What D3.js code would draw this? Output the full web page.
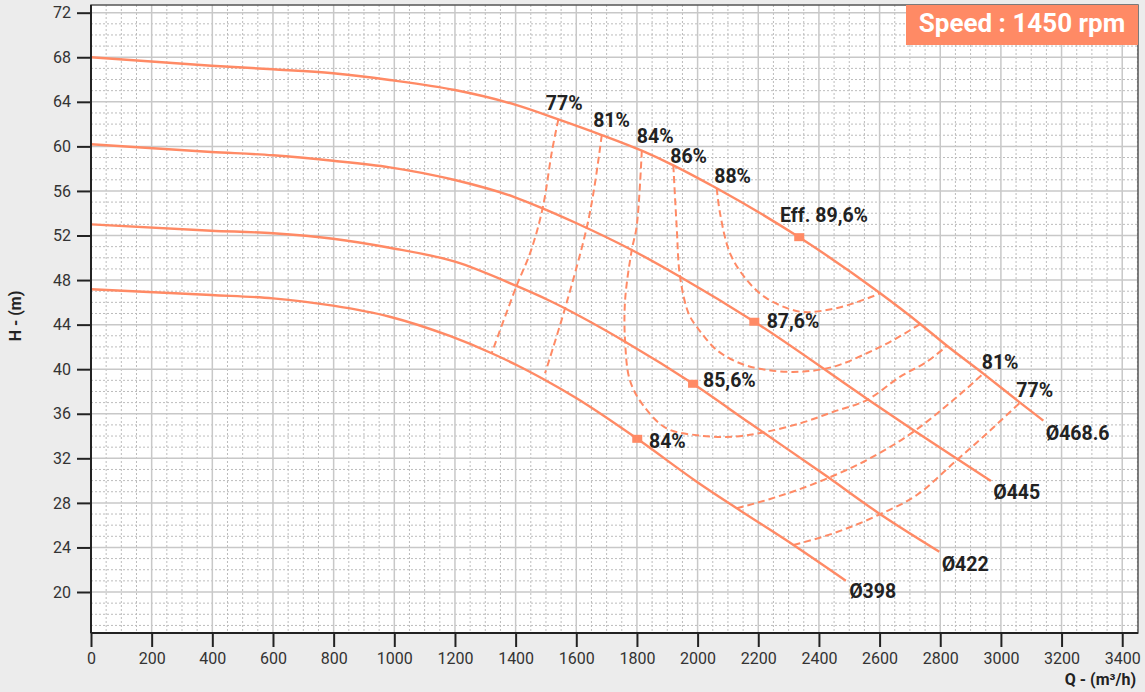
<!DOCTYPE html>
<html><head><meta charset="utf-8">
<script src="https://cdn.jsdelivr.net/npm/d3@7"></script>
<style>
html,body{margin:0;padding:0;background:#ececec;}
svg{display:block;font-family:Roboto,"Noto Sans",sans-serif;}
</style></head><body>
<svg id="chart" width="1145" height="692"></svg>
<script>
// ---------- DATA ----------
const xTicks = [0,200,400,600,800,1000,1200,1400,1600,1800,2000,2200,2400,2600,2800,3000,3200,3400];
const yTicks = [20,24,28,32,36,40,44,48,52,56,60,64,68,72];
const xDomain = [0, 3452];
const yDomain = [16.32, 72.69];
const xTitle = "Q - (m³/h)";
const yTitle = "H - (m)";
const speedText = "Speed : 1450 rpm";

// Head curves (Q m3/h, H m)
const head468 = [[0,68.0],[397,67.24],[600,66.92],[798,66.56],[985,65.96],[1200,65.06],[1398,63.75],[1541,62.43],[1684,61.02],[1816,59.61],[1920,58.30],[2063,56.24],[2335,51.84],[2602,46.81],[2734,44.06],[2822,42.10],[2942,39.60],[3063,37.00],[3140,35.38]];
const head445 = [[0,60.19],[397,59.50],[600,59.20],[798,58.71],[985,58.12],[1200,56.98],[1398,55.43],[1489,54.44],[1601,53.10],[1783,50.70],[1942,48.30],[2187,44.26],[2558,37.35],[2712,34.52],[2855,31.95],[2967,29.96]];
const head422 = [[0,53.0],[397,52.43],[600,52.20],[798,51.71],[985,50.90],[1200,49.65],[1403,47.47],[1507,46.21],[1761,42.47],[1985,38.69],[2173,35.14],[2420,30.50],[2596,27.10],[2797,23.62]];
const head398 = [[0,47.17],[397,46.66],[600,46.36],[798,45.70],[985,44.71],[1183,42.98],[1321,41.43],[1403,40.38],[1497,39.03],[1601,37.39],[1801,33.75],[1997,29.90],[2129,27.51],[2316,24.22],[2489,21.01]];
const diameterLabels = ["Ø468.6","Ø445","Ø422","Ø398"];
const diameterLabelPos = [[3151,33.65],[2978,28.32],[2808,21.91],[2503,19.44]];

// Iso-efficiency curves
const eff77a = [[1541,62.43],[1520,59.6],[1489,54.44],[1450,50.6],[1403,47.47],[1321,41.43]];
const eff77b = [[2316,24.22],[2448,25.27],[2596,26.91],[2723,28.71],[2855,31.85],[2942,33.94],[3063,37.0]];
const eff81a = [[1684,61.02],[1660,56.4],[1634,52.65],[1563,45.47],[1497,39.63]];
const eff81b = [[2129,27.51],[2228,28.26],[2420,30.11],[2558,31.85],[2712,34.39],[2843,37.23],[2942,39.60]];
const eff84 = [[1816,59.61],[1799,52.79],[1783,50.70],[1761,46.21],[1761,42.47],[1777,38.98],[1820,36.78],[1898,34.69],[2006,34.05],[2117,33.94],[2212,34.30],[2338,35.14],[2448,36.18],[2558,37.23],[2668,39.33],[2756,40.67],[2822,42.10]];
const eff86 = [[1920,58.30],[1931,52.79],[1942,48.30],[1970,45.02],[1997,43.81],[2063,41.72],[2140,40.53],[2228,39.93],[2338,39.77],[2448,40.22],[2558,41.43],[2646,42.62],[2734,44.06]];
const eff88 = [[2063,56.24],[2074,53.99],[2107,50.40],[2162,48.01],[2228,46.36],[2338,45.16],[2426,45.31],[2514,45.91],[2602,46.81]];
const effLabels = ["77%","81%","84%","86%","88%","81%","77%"];
const effLabelPos = [[1503,63.27],[1659,61.74],[1803,60.30],[1913,58.51],[2058,56.69],[2940,39.99],[3054,37.48]];

// Best efficiency points
const bepQ = [2335, 2187, 1985, 1801];
const bepH = [51.85, 44.26, 38.69, 33.75];
const bepLabels = ["Eff. 89,6%","87,6%","85,6%","84%"];
const bepLabelPos = [[2275,53.19],[2231,43.67],[2021,38.43],[1843,32.90]];

// ---------- DRAW ----------
const col = "#FF8A65";
const svg = d3.select("#chart");
const L = 91, R = 1138, T = 5, B = 633;
const x = d3.scaleLinear().domain(xDomain).range([L, R]);
const y = d3.scaleLinear().domain(yDomain).range([B, T]);

svg.append("rect").attr("x",0).attr("y",0).attr("width",1145).attr("height",692).attr("fill","#ececec");
svg.append("rect").attr("x",L).attr("y",T).attr("width",R-L).attr("height",B-T).attr("fill","#fff");

const grid = svg.append("g");
d3.range(50, xDomain[1], 50).filter(v => v % 200 !== 0).forEach(v => {
  grid.append("line").attr("x1",x(v)).attr("x2",x(v)).attr("y1",T).attr("y2",B)
    .attr("stroke","#bcbcbc").attr("stroke-width",1).attr("stroke-dasharray","2,2");
});
d3.range(17, yDomain[1], 1).filter(v => v % 4 !== 0).forEach(v => {
  grid.append("line").attr("y1",y(v)).attr("y2",y(v)).attr("x1",L).attr("x2",R)
    .attr("stroke","#bcbcbc").attr("stroke-width",1).attr("stroke-dasharray","2,2");
});
xTicks.forEach(v => {
  grid.append("line").attr("x1",x(v)).attr("x2",x(v)).attr("y1",T).attr("y2",B)
    .attr("stroke","#c8c8c8").attr("stroke-width",1.5);
});
yTicks.forEach(v => {
  grid.append("line").attr("y1",y(v)).attr("y2",y(v)).attr("x1",L).attr("x2",R)
    .attr("stroke","#c8c8c8").attr("stroke-width",1.5);
});

const lineM = d3.line().x(d => x(d[0])).y(d => y(d[1])).curve(d3.curveMonotoneX);
const lineC = d3.line().x(d => x(d[0])).y(d => y(d[1])).curve(d3.curveCatmullRom.alpha(0.5));

const plot = svg.append("g");
[[eff77a,lineC],[eff77b,lineM],[eff81a,lineC],[eff81b,lineM],[eff84,lineC],[eff86,lineC],[eff88,lineC]].forEach(([c,ln]) => {
  plot.append("path").attr("d", ln(c)).attr("fill","none").attr("stroke",col)
    .attr("stroke-width",2).attr("stroke-dasharray","7,4");
});
[head468, head445, head422, head398].forEach(c => {
  plot.append("path").attr("d", lineM(c)).attr("fill","none").attr("stroke",col)
    .attr("stroke-width",2.4);
});

bepQ.forEach((q,i) => {
  plot.append("rect").attr("x", x(q)-5).attr("y", y(bepH[i])-4).attr("width",10).attr("height",8).attr("fill",col);
});

const lbl = svg.append("g").attr("font-weight","bold").attr("font-size","19.5px").attr("fill","#222");
effLabels.forEach((t,i) => {
  lbl.append("text").attr("x", x(effLabelPos[i][0])-1).attr("y", y(effLabelPos[i][1])).text(t);
});
bepLabels.forEach((t,i) => {
  lbl.append("text").attr("x", x(bepLabelPos[i][0])-1).attr("y", y(bepLabelPos[i][1])).text(t);
});
diameterLabels.forEach((t,i) => {
  lbl.append("text").attr("x", x(diameterLabelPos[i][0])-1).attr("y", y(diameterLabelPos[i][1])).text(t);
});

const xAxis = svg.append("g").attr("transform",`translate(0,${B})`)
  .call(d3.axisBottom(x).tickValues(xTicks).tickSize(14).tickPadding(6).tickFormat(d3.format("d")));
const yAxis = svg.append("g").attr("transform",`translate(${L},0)`)
  .call(d3.axisLeft(y).tickValues(yTicks).tickSize(14).tickPadding(6).tickFormat(d3.format("d")));
[xAxis, yAxis].forEach(a => {
  a.select(".domain").remove();
  a.selectAll(".tick line").attr("stroke","#222").attr("stroke-width",2);
  a.selectAll(".tick text").attr("fill","#333").attr("font-size","16px").attr("font-family","Roboto");
});

svg.append("rect").attr("x",L).attr("y",T).attr("width",R-L).attr("height",B-T)
  .attr("fill","none").attr("stroke","#555").attr("stroke-width",1.5);
svg.append("line").attr("x1",L).attr("x2",L).attr("y1",T).attr("y2",B).attr("stroke","#222").attr("stroke-width",2);
svg.append("line").attr("x1",L).attr("x2",R).attr("y1",B).attr("y2",B).attr("stroke","#222").attr("stroke-width",2);

svg.append("text").attr("transform","translate(21,316) rotate(-90)").attr("text-anchor","middle")
  .attr("font-weight","bold").attr("font-size","16px").attr("fill","#222").text(yTitle);
svg.append("text").attr("x",1136).attr("y",685).attr("text-anchor","end")
  .attr("font-weight","bold").attr("font-size","16px").attr("fill","#222").text(xTitle);

svg.append("rect").attr("x",906).attr("y",T).attr("width",R-906).attr("height",40).attr("fill",col);
svg.append("text").attr("x",1022).attr("y",31.5).attr("text-anchor","middle")
  .attr("font-weight","bold").attr("font-size","26px").attr("fill","#fff").text(speedText);
</script>
</body></html>
